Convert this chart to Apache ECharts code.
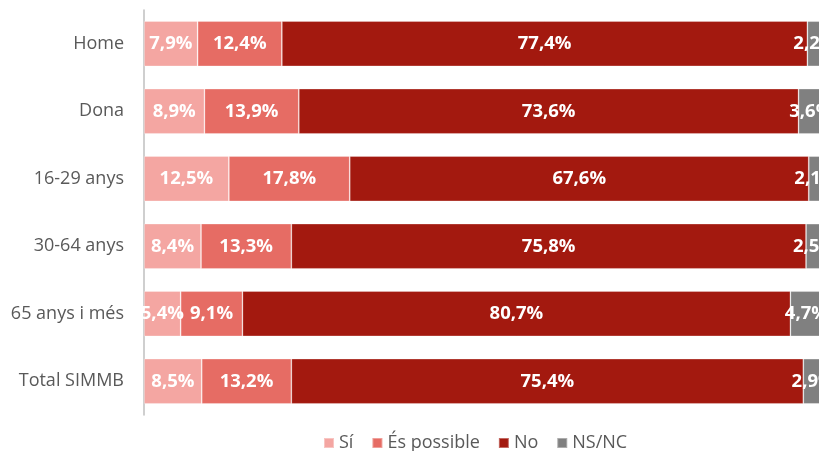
<!DOCTYPE html>
<html>
<head>
  <meta charset="utf-8">
  <title>Enquesta SIMMB</title>
  <script src="https://cdn.jsdelivr.net/npm/echarts@6/dist/echarts.min.js"></script>
  <style>
    html, body { margin: 0; padding: 0; background: #fff; }
  </style>
</head>
<body>
  <div id="main" style="width: 819px; height: 451px;"></div>

  <script>
    const categories = ['Home', 'Dona', '16-29 anys', '30-64 anys', '65 anys i més', 'Total SIMMB'];
    const si = [7.9, 8.9, 12.5, 8.4, 5.4, 8.5];
    const esPossible = [12.4, 13.9, 17.8, 13.3, 9.1, 13.2];
    const no = [77.4, 73.6, 67.6, 75.8, 80.7, 75.4];
    const nsnc = [2.2, 3.6, 2.1, 2.5, 4.7, 2.9];

    const font = '"Open Sans", sans-serif';
    const fmt = p => p.value.toFixed(1).replace('.', ',') + '%';

    function mkSeries(name, data, color) {
      return {
        name: name,
        type: 'bar',
        stack: 'total',
        barCategoryGap: '33%',
        data: data,
        itemStyle: { color: color, borderColor: 'rgba(255,255,255,0.35)', borderWidth: 0.8 },
        label: {
          show: true,
          position: 'inside',
          formatter: fmt,
          color: '#fff',
          fontWeight: 'bold',
          fontSize: 18.5,
          fontFamily: font
        }
      };
    }

    const chart = echarts.init(document.getElementById('main'));
    chart.setOption({
      animation: false,
      grid: { left: 144, right: -4, top: 10, bottom: 36, outerBoundsMode: 'none' },
      legend: {
        left: 318,
        top: 429,
        itemWidth: 10,
        itemHeight: 10,
        itemGap: 18,
        icon: 'rect',
        textStyle: { color: '#595959', fontSize: 18, fontFamily: font },
        data: ['Sí', 'És possible', 'No', 'NS/NC']
      },
      xAxis: {
        type: 'value',
        min: 0,
        max: 100,
        show: false
      },
      yAxis: {
        type: 'category',
        inverse: true,
        data: categories,
        axisLine: { lineStyle: { color: '#bfbfbf', width: 1.5 } },
        axisTick: { show: false },
        axisLabel: { color: '#595959', fontSize: 18, fontFamily: font, margin: 20 }
      },
      series: [
        mkSeries('Sí', si, '#f4a6a2'),
        mkSeries('És possible', esPossible, '#e66c64'),
        mkSeries('No', no, '#a3190f'),
        mkSeries('NS/NC', nsnc, '#808080')
      ]
    });
  </script>
</body>
</html>
